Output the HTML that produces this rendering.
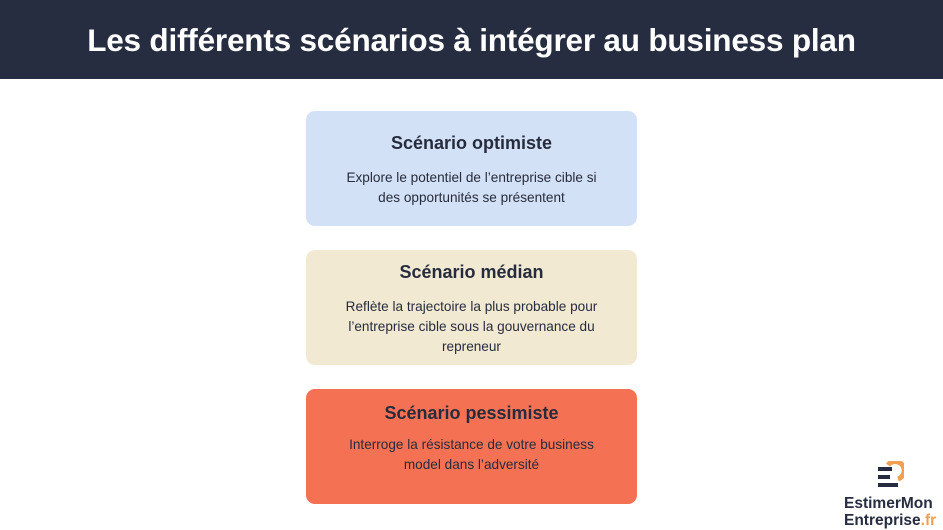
<!DOCTYPE html>
<html><head><meta charset="utf-8"><style>
body{margin:0;width:943px;height:530px;background:#fff;font-family:"Liberation Sans",sans-serif;position:relative;overflow:hidden;color:#262c3d}
.hdr{position:absolute;left:0;top:0;width:943px;height:79px;background:#262d40;color:#fff;font-weight:bold;font-size:31.5px;text-align:center;line-height:80px;letter-spacing:-0.2px}
.box{position:absolute;left:306px;width:331px;height:115px;border-radius:9px;text-align:center}
.box h2{margin:0;font-size:18px;font-weight:bold;position:absolute;width:100%}
.box p{margin:0;font-size:13.6px;line-height:20px;position:absolute;width:100%}
.logo{position:absolute;left:844px;font-weight:bold;font-size:15.5px;line-height:17px;color:#262d40}
</style></head><body>
<div class="hdr">Les différents scénarios à intégrer au business plan</div>
<div class="box" style="top:111px;background:#d3e1f6"><h2 style="top:22px">Scénario optimiste</h2><p style="top:57px;padding:0 30px;box-sizing:border-box">Explore le potentiel de l’entreprise cible si des opportunités se présentent</p></div>
<div class="box" style="top:250px;background:#f2e9d3"><h2 style="top:12px">Scénario médian</h2><p style="top:47px;padding:0 26px;box-sizing:border-box">Reflète la trajectoire la plus probable pour l’entreprise cible sous la gouvernance du repreneur</p></div>
<div class="box" style="top:389px;background:#f47253"><h2 style="top:14px">Scénario pessimiste</h2><p style="top:46px;padding:0 30px;box-sizing:border-box">Interroge la résistance de votre business model dans l’adversité</p></div>
<svg style="position:absolute;left:876px;top:461px" width="28" height="32">
<path d="M12 4 A9 9 0 1 1 22 18" stroke="#f0a050" stroke-width="5" fill="none"/>
<rect x="2" y="6" width="14" height="4" fill="#262d40"/><rect x="2" y="14" width="12" height="4" fill="#262d40"/><rect x="2" y="22" width="20" height="4" fill="#262d40"/>
</svg>
<div class="logo" style="top:495px">EstimerMon<br>Entreprise<span style="color:#f0a050">.fr</span></div>
</body></html>
